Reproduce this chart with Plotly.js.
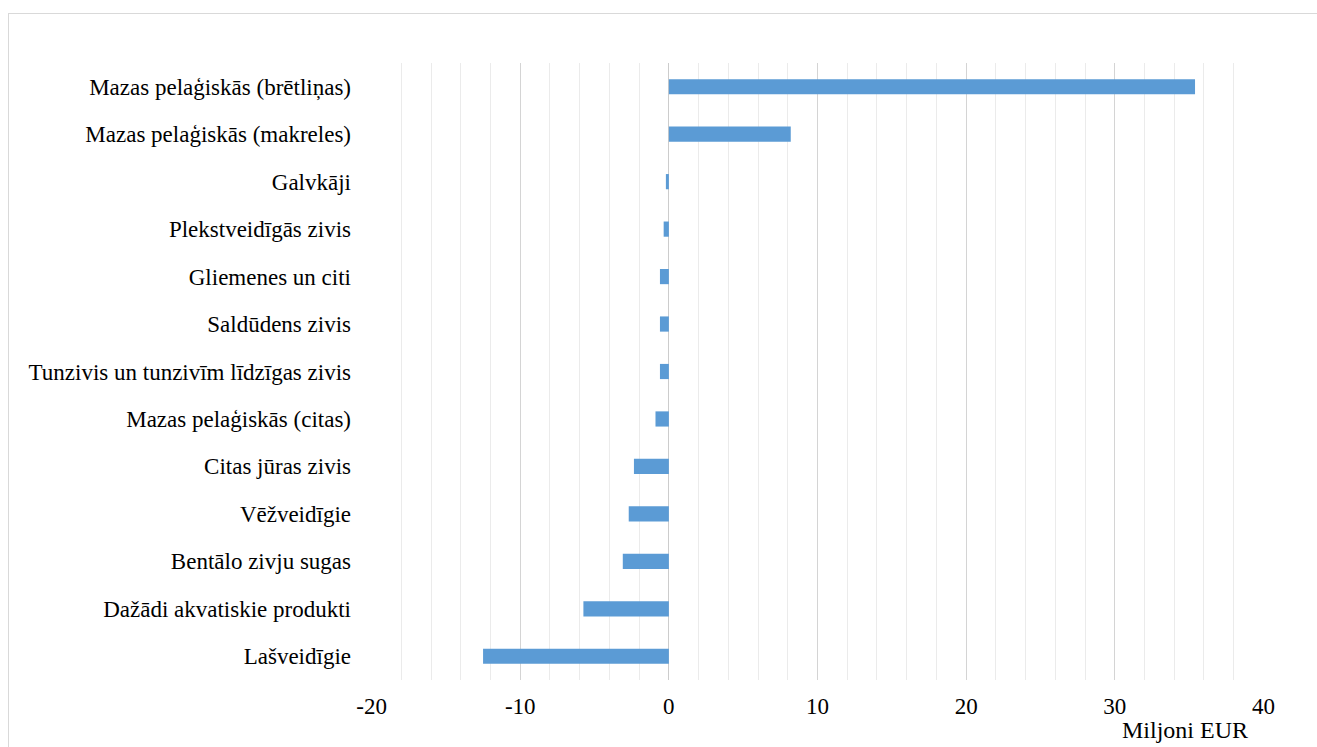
<!DOCTYPE html>
<html>
<head>
<meta charset="utf-8">
<script src="https://cdn.plot.ly/plotly-3.0.1.min.js"></script>
<style>
html,body{margin:0;padding:0;background:#fff;}
#frame{position:absolute;left:8px;top:13px;width:1400px;height:800px;border-top:1px solid #d9d9d9;border-left:1px solid #d9d9d9;}
#chart{position:absolute;left:0;top:0;width:1317px;height:747px;}
</style>
</head>
<body>
<div id="frame"></div>
<div id="chart"></div>
<script>
const categories = [
  "Mazas pelaģiskās (brētliņas)",
  "Mazas pelaģiskās (makreles)",
  "Galvkāji",
  "Plekstveidīgās zivis",
  "Gliemenes un citi",
  "Saldūdens zivis",
  "Tunzivis un tunzivīm līdzīgas zivis",
  "Mazas pelaģiskās (citas)",
  "Citas jūras zivis",
  "Vēžveidīgie",
  "Bentālo zivju sugas",
  "Dažādi akvatiskie produkti",
  "Lašveidīgie"
];
const values = [35.4, 8.2, -0.2, -0.35, -0.6, -0.6, -0.6, -0.9, -2.35, -2.7, -3.1, -5.75, -12.5];
const xTickVals = [-20, -10, 0, 10, 20, 30, 40];
const axisTitle = "Miljoni EUR";

const fam = "Liberation Serif, Times New Roman, serif";
const font = {family: fam, size: 23, color: "#000"};
const titleFont = {family: fam, size: 24, color: "#000"};

Plotly.newPlot("chart", [{
  type: "bar",
  orientation: "h",
  y: categories,
  x: values,
  width: 0.32,
  marker: {color: "#5b9bd5", line: {width: 0}},
  hoverinfo: "x+y"
}], {
  width: 1317, height: 747,
  margin: {l: 371, r: 53, t: 63, b: 67, pad: 0},
  paper_bgcolor: "rgba(0,0,0,0)",
  plot_bgcolor: "rgba(0,0,0,0)",
  font: font,
  showlegend: false,
  xaxis: {
    range: [-20.04, 40.04],
    tickvals: xTickVals,
    ticktext: xTickVals.map(String),
    showgrid: true, gridcolor: "#d4d4d4", gridwidth: 1,
    zeroline: true, zerolinecolor: "#cccccc", zerolinewidth: 1,
    minor: {dtick: 2, tick0: 0, showgrid: true, gridcolor: "#ebebeb", gridwidth: 1, ticks: ""},
    showline: false, ticks: "",
    ticklabelstandoff: 10,
    tickfont: font,
    fixedrange: true
  },
  yaxis: {
    categoryorder: "array",
    categoryarray: categories.slice().reverse(),
    autorange: true,
    showgrid: false, zeroline: false, showline: false, ticks: "",
    ticklabelstandoff: 19,
    tickfont: font,
    fixedrange: true
  },
  annotations: [{
    text: axisTitle,
    xref: "paper", yref: "paper",
    x: (1250 - 371) / (1264 - 371), xanchor: "right",
    y: -(745 - 680) / (680 - 63), yanchor: "bottom",
    showarrow: false,
    font: titleFont
  }]
}, {displayModeBar: false, staticPlot: true});
</script>
</body>
</html>
